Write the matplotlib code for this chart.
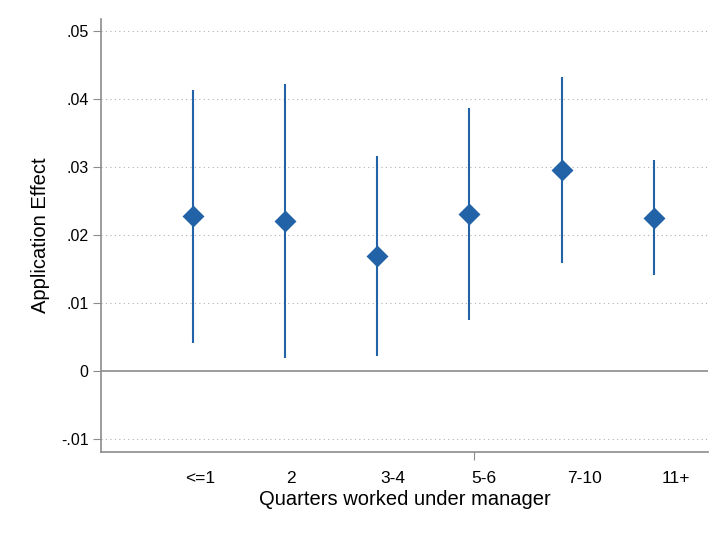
import matplotlib
matplotlib.use('Agg')
import matplotlib.pyplot as plt

plt.rcParams['font.family'] = ['Liberation Sans', 'DejaVu Sans']

# 数据
groups = ['<=1', '2', '3-4', '5-6', '7-10', '11+']
coef = [0.0228, 0.0221, 0.0169, 0.0231, 0.0296, 0.0225]
ci_lo = [0.0041, 0.0019, 0.0022, 0.0075, 0.0159, 0.0142]
ci_hi = [0.0413, 0.0422, 0.0316, 0.0387, 0.0432, 0.0310]
label_pos = [0.08, 1.06, 2.17, 3.16, 4.25, 5.24]
yticks = [-0.01, 0, 0.01, 0.02, 0.03, 0.04, 0.05]
ytick_labels = ['-.01', '0', '.01', '.02', '.03', '.04', '.05']

blue = '#2263a8'
grey = '#8c8c8c'

fig = plt.figure(figsize=(7.2, 5.4), dpi=100)
ax = fig.add_axes([0.1403, 0.163, 0.843, 0.802])

x = list(range(len(groups)))
ax.vlines(x, ci_lo, ci_hi, color=blue, lw=1.5, zorder=3)
ax.scatter(x, coef, marker='D', s=125, color=blue, zorder=4, linewidths=0)

# 网格线
for y in yticks:
    if y != 0:
        ax.axhline(y, color='#b0b0b0', lw=0.8, ls=(0, (1, 3)), zorder=1)
ax.axhline(0, color=grey, lw=1.2, zorder=2)

ax.set_xlim(-1.0, 5.59)
ax.set_ylim(-0.0119, 0.0518)
ax.set_yticks(yticks)
ax.set_yticklabels(ytick_labels, fontsize=11.5)
ax.set_xticks(label_pos)
ax.set_xticklabels(groups, fontsize=12.5)
ax.set_xticks([3.05], minor=True)
ax.tick_params(axis='x', which='major', length=0, pad=13.5)
ax.tick_params(axis='x', which='minor', length=6, color=grey, width=0.8)
ax.tick_params(axis='y', length=6, color=grey, width=0.8, pad=3)

for s in ['top', 'right']:
    ax.spines[s].set_visible(False)
for s in ['left', 'bottom']:
    ax.spines[s].set_color(grey)
    ax.spines[s].set_linewidth(1.2)

ax.set_ylabel('Application Effect', fontsize=14.5, labelpad=8)
ax.set_xlabel('Quarters worked under manager', fontsize=14.5, labelpad=3)

fig.savefig('out.png', dpi=100)
